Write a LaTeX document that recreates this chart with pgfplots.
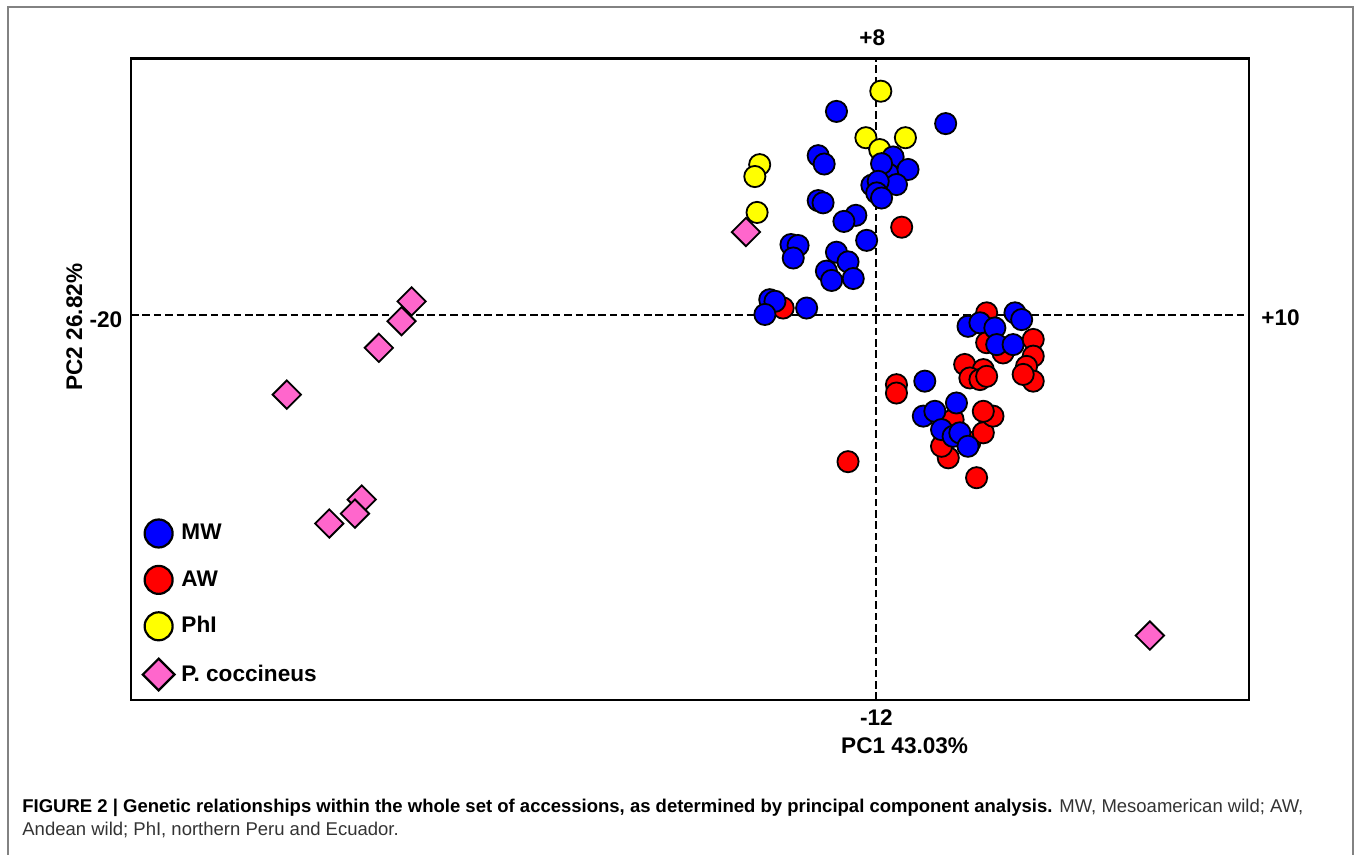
\documentclass[border=0pt]{standalone}
\usepackage{pgfplots}
\usepackage{pgfplotstable}
\pgfplotsset{compat=1.18}
\usepackage{fontspec}
\setmainfont{Liberation Sans}
\definecolor{mwblue}{RGB}{0,0,255}
\definecolor{awred}{RGB}{255,0,0}
\definecolor{phyel}{RGB}{255,255,0}
\definecolor{pcpink}{RGB}{255,102,204}
\definecolor{framegray}{RGB}{130,130,130}

\pgfplotstableread{
x y
-1.07 6.35
1.86 5.97
-1.56 4.97
-1.40 4.71
0.45 4.93
-0.12 4.05
0.32 4.40
0.14 4.72
0.85 4.54
0.54 4.07
0.05 4.17
0.01 3.81
0.14 3.65
-1.56 3.57
-1.43 3.50
-0.55 3.11
-0.87 2.92
-0.26 2.33
-2.29 2.20
-2.10 2.17
-2.23 1.78
-1.07 1.96
-0.76 1.66
-1.34 1.37
-1.20 1.08
-0.62 1.14
-2.86 0.48
-2.72 0.43
-1.87 0.22
-2.99 0.02
2.46 -0.35
2.78 -0.24
3.18 -0.40
3.72 0.07
3.90 -0.14
3.23 -0.92
3.67 -0.92
1.30 -2.06
2.15 -2.74
1.26 -3.15
1.57 -3.00
1.75 -3.57
2.06 -3.78
2.24 -3.67
2.46 -4.09
}\mwdata

\pgfplotstableread{
x y
0.68 2.74
-2.50 0.22
2.96 0.07
0.54 -2.17
0.54 -2.43
2.96 -0.86
3.40 -1.18
1.93 -4.45
1.75 -4.09
2.06 -3.26
2.51 -3.97
2.87 -3.67
2.69 -5.07
-0.76 -4.57
}\awdataA

\pgfplotstableread{
x y
4.21 -0.76
4.21 -1.28
4.03 -1.60
4.21 -2.06
3.94 -1.85
2.37 -1.54
2.87 -1.70
2.51 -1.96
2.78 -2.01
2.96 -1.91
3.13 -3.15
2.87 -3.00
}\awdataB

\pgfplotstableread{
x y
0.12 6.98
-0.28 5.53
0.78 5.53
0.09 5.16
-3.13 4.69
-3.26 4.32
-3.20 3.20
}\phdata

\pgfplotstableread{
x y
-3.50 2.59
-12.47 0.43
-12.74 -0.19
-13.35 -1.02
-15.82 -2.48
-13.81 -5.75
-13.99 -6.19
-14.68 -6.50
7.34 -9.99
}\pcdata

\begin{document}
\begin{tikzpicture}
\useasboundingbox (0pt,0pt) rectangle (677pt,427.5pt);
\draw[framegray, line width=0.7pt] (4pt,0pt) -- (4pt,424pt) -- (676.5pt,424pt) -- (676.5pt,0pt);
\begin{axis}[
  at={(65.5pt,77.5pt)}, anchor=south west,
  scale only axis, width=559pt, height=320.75pt,
  xmin=-20, xmax=10, ymin=-12, ymax=8,
  ticks=none, clip=false,
  axis line style={line width=1.3pt},
  legend style={at={(0.0102,0.282)}, anchor=north west, draw=none, fill=none,
    inner xsep=0pt, inner ysep=0pt, row sep=9.2pt, column sep=1.5pt,
    font=\fontsize{11.3}{13}\selectfont\bfseries,
    nodes={inner sep=2pt}},
  legend cell align=left,
]
\addlegendimage{only marks, mark=*, mark size=7pt, mark options={fill=mwblue, draw=black, line width=1.1pt}}
\addlegendentry{MW}
\addlegendimage{only marks, mark=*, mark size=7pt, mark options={fill=awred, draw=black, line width=1.1pt}}
\addlegendentry{AW}
\addlegendimage{only marks, mark=*, mark size=7pt, mark options={fill=phyel, draw=black, line width=1.1pt}}
\addlegendentry{PhI}
\addlegendimage{only marks, mark=square*, mark size=5.6pt, mark options={rotate=45, fill=pcpink, draw=black, line width=1.1pt}}
\addlegendentry{P. coccineus}

\draw[black, line width=1pt, dash pattern=on 3.8pt off 1.9pt] (axis cs:0,-12) -- (axis cs:0,8);
\draw[black, line width=1pt, dash pattern=on 3.8pt off 1.9pt] (axis cs:-20,0) -- (axis cs:10,0);

\addplot[forget plot, only marks, mark=*, mark size=5.3pt, mark options={fill=awred, draw=black, line width=0.9pt}] table {\awdataA};
\addplot[forget plot, only marks, mark=*, mark size=5.3pt, mark options={fill=phyel, draw=black, line width=0.9pt}] table {\phdata};
\addplot[forget plot, only marks, mark=*, mark size=5.3pt, mark options={fill=mwblue, draw=black, line width=0.9pt}] table {\mwdata};
\addplot[forget plot, only marks, mark=*, mark size=5.3pt, mark options={fill=awred, draw=black, line width=0.9pt}] table {\awdataB};
\addplot[forget plot, only marks, mark=square*, mark size=5.0pt, mark options={rotate=45, fill=pcpink, draw=black, line width=0.9pt}] table {\pcdata};

\begin{scope}[font=\fontsize{11.3}{13}\selectfont\bfseries]
\node[anchor=base, inner sep=0pt, xshift=-2pt, yshift=6.5pt] at (axis cs:0,8) {+8};
\node[anchor=base, inner sep=0pt, yshift=-13pt] at (axis cs:0,-12) {-12};
\node[anchor=base, inner sep=0pt, yshift=-27pt] at (axis cs:0.76,-12) {PC1 43.03\%};
\node[anchor=base east, inner sep=0pt, xshift=-4.2pt, yshift=-6pt] at (axis cs:-20,0) {-20};
\node[anchor=base west, inner sep=0pt, xshift=6pt, yshift=-5pt] at (axis cs:10,0) {+10};
\end{scope}
\end{axis}
\node[anchor=base, rotate=90, inner sep=0pt, font=\fontsize{11.3}{13}\selectfont\bfseries] at (41pt,264pt) {PC2 26.82\%};
\node[anchor=base west, inner sep=0pt, font=\fontsize{9.25}{11}\selectfont] at (11pt,21pt) {\textbf{FIGURE 2 \textbar{} Genetic relationships within the whole set of accessions, as determined by principal component analysis.} \textcolor{black!80}{MW, Mesoamerican wild; AW,}};
\node[anchor=base west, inner sep=0pt, font=\fontsize{9.25}{11}\selectfont, text=black!80] at (11pt,9.5pt) {Andean wild; PhI, northern Peru and Ecuador.};
\end{tikzpicture}
\end{document}
